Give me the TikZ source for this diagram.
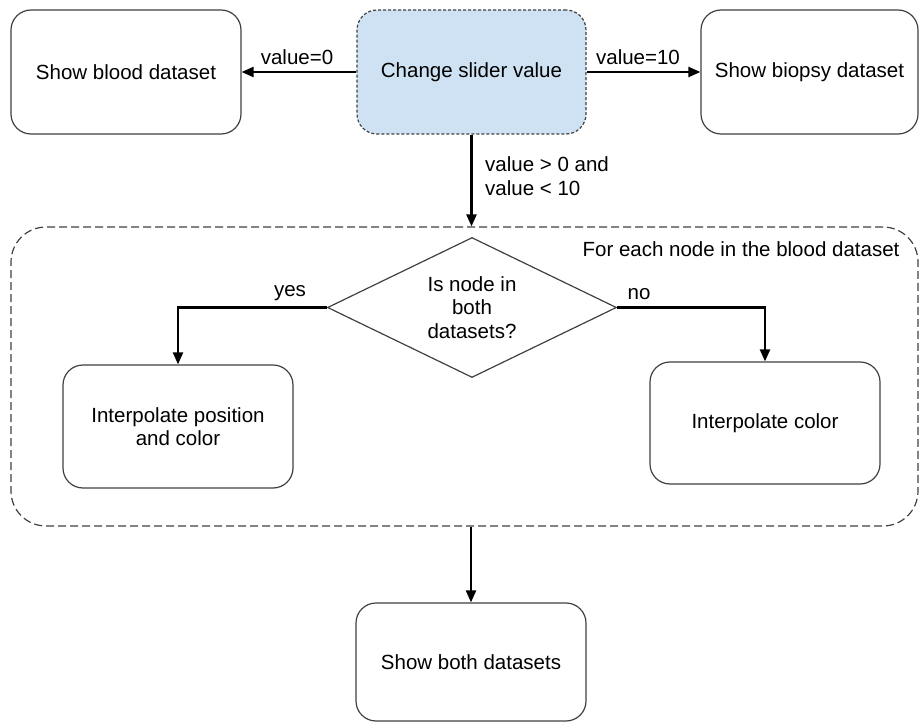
\documentclass[tikz,border=0pt]{standalone}
\usepackage{fontspec}
\setmainfont{Liberation Sans}
\usetikzlibrary{arrows.meta,shapes.geometric}
\definecolor{sliderblue}{HTML}{CFE2F3}
\tikzset{
  box/.style={draw=black!75, line width=1.2pt, rounded corners=20pt, minimum width=230pt, minimum height=124pt, align=center, inner sep=0pt},
  flow/.style={-{Triangle[length=12pt,width=10pt]}, line width=2.2pt},
  lbl/.style={inner sep=0pt, align=left}
}
\begin{document}
\begin{tikzpicture}[x=1pt,y=-1pt,font=\fontsize{20.5}{23.5}\selectfont]
\useasboundingbox (0,0) rectangle (919,722);
\node[box, dash pattern=on 3pt off 2pt, fill=sliderblue, minimum width=229pt] (slider) at (471.5,72) {Change slider value};
\node[box] (blood) at (126,72) {Show blood dataset};
\node[box, minimum width=217pt] (biopsy) at (809.5,72) {Show biopsy dataset};
\node[draw=black!75, line width=1.2pt, dash pattern=on 8pt off 4pt, rounded corners=35pt, minimum width=907pt, minimum height=299pt, inner sep=0pt] (loop) at (464.5,376.5) {};
\node[lbl, anchor=base] at (741,257) {For each node in the blood dataset};
\node[draw=black!75, line width=1.2pt, diamond, aspect=2, minimum width=289pt, minimum height=140pt, inner sep=0pt, align=center] (check) at (472,307.5) {Is node in\\both\\datasets?};
\node[box, minimum height=123pt] (both) at (178,426.5) {Interpolate position\\and color};
\node[box, minimum height=122pt] (color) at (765,423) {Interpolate color};
\node[box, minimum height=118pt] (show) at (471,662) {Show both datasets};
\draw[flow] (slider) -- (blood) node[lbl, anchor=base] at (297,65) {value=0};
\draw[flow] (slider) -- (biopsy) node[lbl, anchor=base] at (638,65) {value=10};
\draw[flow] (slider.south) -- (slider.south |- loop.north);
\node[lbl, anchor=west] at (485,176) {value > 0 and\\value < 10};
\draw[flow] (check.west) -| (both.north) node[lbl, anchor=base] at (290,297) {yes};
\draw[flow] (check.east) -| (color.north) node[lbl, anchor=base] at (639,300) {no};
\draw[flow] (show.north |- loop.south) -- (show.north);
\end{tikzpicture}
\end{document}
